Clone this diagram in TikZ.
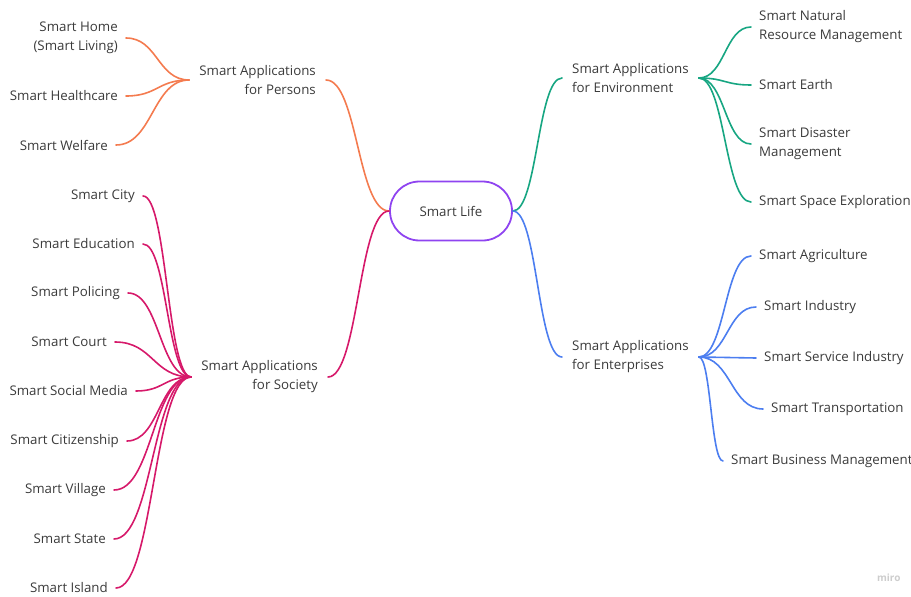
\documentclass[tikz,border=0pt]{standalone}
\usepackage{fontspec}
\setmainfont{Open Sans}
\usepackage{tikz}
\usetikzlibrary{calc}
\usetikzlibrary{positioning}

\definecolor{lifepurple}{HTML}{8F44F0}
\definecolor{persorange}{HTML}{F47B4F}
\definecolor{socmagenta}{HTML}{D6196A}
\definecolor{envgreen}{HTML}{17A682}
\definecolor{entblue}{HTML}{4C7EF0}
\definecolor{textgrey}{HTML}{3A3A3A}
\definecolor{marklight}{HTML}{CDCDCD}

\tikzset{
  curvy/.style={to path={.. controls ($(\tikztostart)!0.5!(\tikztotarget |- \tikztostart)$)
      and ($(\tikztotarget)!0.5!(\tikztostart |- \tikztotarget)$) .. (\tikztotarget) \tikztonodes}},
  topic/.style={font=\fontsize{13.3}{19}\selectfont, text=textgrey, inner ysep=2pt},
  leaf/.style={topic, inner xsep=8pt},
  branch/.style={topic, inner xsep=10pt},
  link/.style={line width=1.6pt, line cap=round},
  plink/.style={link, draw=persorange},
  slink/.style={link, draw=socmagenta},
  elink/.style={link, draw=envgreen},
  blink/.style={link, draw=entblue},
}

\begin{document}
\begin{tikzpicture}[x=1pt,y=-1pt]
  \useasboundingbox (0,0) rectangle (911,597);

  \node[topic, draw=lifepurple, line width=1.8pt, rounded corners=29.5pt,
        minimum width=122pt, minimum height=59pt] (life) at (451,211) {Smart Life};

  \node[branch, anchor=east, align=right] (persons) at (326,80) {Smart Applications\\for Persons};
  \node[branch, anchor=east, align=right] (society) at (328,377) {Smart Applications\\for Society};
  \node[branch, anchor=west, align=left] (environment) at (562,78) {Smart Applications\\for Environment};
  \node[branch, anchor=west, align=left] (enterprises) at (562,357) {Smart Applications\\for Enterprises};

  \node[leaf, anchor=east, align=right] (home) at (126,38) {Smart Home\\(Smart Living)};
  \node[leaf, anchor=east] (healthcare) at (126,96) {Smart Healthcare};
  \node[leaf, anchor=east] (welfare) at (116,145) {Smart Welfare};

  \node[leaf, anchor=east] (city) at (143,196) {Smart City};
  \node[leaf, anchor=east] (education) at (143,244) {Smart Education};
  \node[leaf, anchor=east] (policing) at (128,293) {Smart Policing};
  \node[leaf, anchor=east] (court) at (115,342) {Smart Court};
  \node[leaf, anchor=east] (socialmedia) at (136,391) {Smart Social Media};
  \node[leaf, anchor=east] (citizenship) at (127,441) {Smart Citizenship};
  \node[leaf, anchor=east] (village) at (114,490) {Smart Village};
  \node[leaf, anchor=east] (state) at (114,539) {Smart State};
  \node[leaf, anchor=east] (island) at (116,588) {Smart Island};

  \node[leaf, anchor=west, align=left] (natural) at (751,27) {Smart Natural\\Resource Management};
  \node[leaf, anchor=west] (earth) at (751,85) {Smart Earth};
  \node[leaf, anchor=west, align=left] (disaster) at (751,144) {Smart Disaster\\Management};
  \node[leaf, anchor=west] (space) at (751,202) {Smart Space Exploration};

  \node[leaf, anchor=west] (agriculture) at (751,256) {Smart Agriculture};
  \node[leaf, anchor=west] (industry) at (756,307) {Smart Industry};
  \node[leaf, anchor=west] (service) at (756,358) {Smart Service Industry};
  \node[leaf, anchor=west] (transportation) at (763,409) {Smart Transportation};
  \node[leaf, anchor=west] (business) at (723,461) {Smart Business Management};

  \node[text=marklight, font=\bfseries\fontsize{10}{12}\selectfont, anchor=east] (miro) at (904,578) {miro};

  \draw[plink] (life.west) to[curvy] (persons.east);
  \draw[slink] (life.west) to[curvy] (society.east);
  \draw[elink] (life.east) to[curvy] (environment.west);
  \draw[blink] (life.east) to[curvy] (enterprises.west);

  \foreach \n in {home,healthcare,welfare}
    \draw[plink] (persons.west) to[curvy] (\n.east);
  \foreach \n in {city,education,policing,court,socialmedia,citizenship,village,state,island}
    \draw[slink] (society.west) to[curvy] (\n.east);
  \foreach \n in {natural,earth,disaster,space}
    \draw[elink] (environment.east) to[curvy] (\n.west);
  \foreach \n in {agriculture,industry,service,transportation,business}
    \draw[blink] (enterprises.east) to[curvy] (\n.west);
\end{tikzpicture}
\end{document}
